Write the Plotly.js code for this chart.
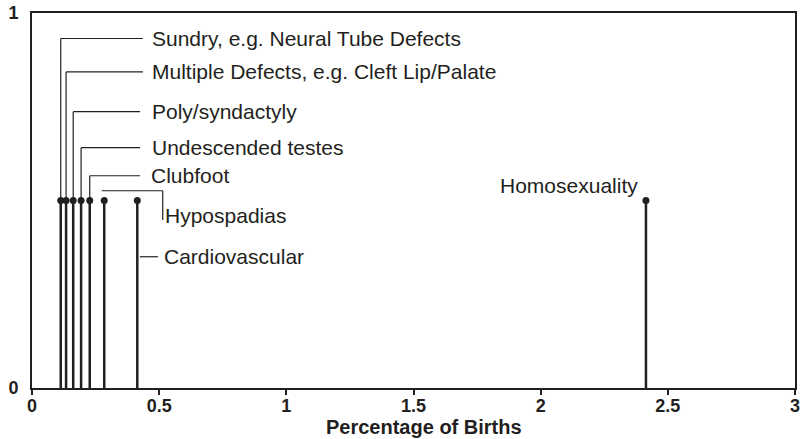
<!DOCTYPE html>
<html>
<head>
<meta charset="utf-8">
<script src="https://cdn.plot.ly/plotly-3.0.1.min.js"></script>
<style>html,body{margin:0;padding:0;background:#fff;}#chart{width:803px;height:439px;}</style>
</head>
<body>
<div id="chart"></div>
<script>
// ---- data ----
const categories = ["Sundry, e.g. Neural Tube Defects", "Multiple Defects, e.g. Cleft Lip/Palate", "Poly/syndactyly", "Undescended testes", "Clubfoot", "Hypospadias", "Cardiovascular", "Homosexuality"];
const percentOfBirths = [0.113, 0.134, 0.162, 0.193, 0.227, 0.284, 0.414, 2.414];
const stemHeight = [0.5, 0.5, 0.5, 0.5, 0.5, 0.5, 0.5, 0.5];
const xTickVals = [0, 0.5, 1, 1.5, 2, 2.5, 3];
const xTickText = ["0", "0.5", "1", "1.5", "2", "2.5", "3"];
const yTickVals = [0, 1];
const yTickText = ["0", "1"];
const xTitle = "Percentage of Births";

// ---- label layout (positions in data units) ----
// style: 'elbow' = up from dot then right; 'hook' = right then down; 'short' = short line to right; 'left' = text left of dot
const labelStyle = ["elbow", "elbow", "elbow", "elbow", "elbow", "hook", "short", "left"];
const labelY = [0.932, 0.843, 0.737, 0.641, 0.566, 0.526, 0.350, 0.539];
const lineEndX = [0.436, 0.436, 0.425, 0.425, 0.425, 0.514, 0.495, null];
const textX = [0.464, 0.464, 0.462, 0.462, 0.460, 0.517, 0.513, null];
const hookDownY = 0.448;
const hookTextY = 0.459;

const ink = "#231f20";
const textFont = {family: "Liberation Sans, Arial, sans-serif", size: 21, color: ink};

// stems
const sx = [], sy = [];
percentOfBirths.forEach((v, i) => { sx.push(v, v, null); sy.push(0, stemHeight[i], null); });

const traces = [
  {type: "scatter", mode: "lines", x: sx, y: sy, line: {color: ink, width: 2.5}, hoverinfo: "skip", showlegend: false},
  {type: "scatter", mode: "markers", x: percentOfBirths, y: stemHeight, text: categories,
   marker: {color: ink, size: 7}, showlegend: false}
];

const shapes = [];
const annotations = [];
const leader = {color: ink, width: 1.2};
categories.forEach((c, i) => {
  const x0 = percentOfBirths[i], y0 = stemHeight[i], ly = labelY[i];
  if (labelStyle[i] === "elbow") {
    shapes.push({type: "line", xref: "x", yref: "y", x0: x0, x1: x0, y0: y0, y1: ly, line: leader});
    shapes.push({type: "line", xref: "x", yref: "y", x0: x0, x1: lineEndX[i], y0: ly, y1: ly, line: leader});
    annotations.push({x: textX[i], y: ly, xref: "x", yref: "y", text: c, showarrow: false, xanchor: "left", yanchor: "middle", font: textFont});
  } else if (labelStyle[i] === "hook") {
    shapes.push({type: "line", xref: "x", yref: "y", x0: x0 - 0.01, x1: lineEndX[i], y0: ly, y1: ly, line: leader});
    shapes.push({type: "line", xref: "x", yref: "y", x0: lineEndX[i], x1: lineEndX[i], y0: ly, y1: hookDownY, line: leader});
    annotations.push({x: textX[i], y: hookTextY, xref: "x", yref: "y", text: c, showarrow: false, xanchor: "left", yanchor: "middle", font: textFont});
  } else if (labelStyle[i] === "short") {
    shapes.push({type: "line", xref: "x", yref: "y", x0: x0 + 0.01, x1: lineEndX[i], y0: ly, y1: ly, line: leader});
    annotations.push({x: textX[i], y: ly, xref: "x", yref: "y", text: c, showarrow: false, xanchor: "left", yanchor: "middle", font: textFont});
  } else {
    annotations.push({x: x0, y: ly, xref: "x", yref: "y", text: c, showarrow: false, xanchor: "right", yanchor: "middle", xshift: -6, font: textFont});
  }
});

// x-axis title (placed as paper annotation to match reference position)
annotations.push({x: 0.514, y: -0.104, xref: "paper", yref: "paper", text: "<b>" + xTitle + "</b>", showarrow: false,
  xanchor: "center", yanchor: "middle", borderpad: 0, font: {family: "Liberation Sans, Arial, sans-serif", size: 20, color: ink}});

const layout = {
  width: 803, height: 439,
  margin: {l: 32, r: 8, t: 13, b: 51},
  paper_bgcolor: "#fff", plot_bgcolor: "#fff",
  showlegend: false,
  xaxis: {
    range: [0, 3], tickvals: xTickVals, ticktext: xTickText,
    showgrid: false, zeroline: false, showline: true, mirror: true, linecolor: ink, linewidth: 2,
    ticks: "outside", ticklen: 5, tickwidth: 2, tickcolor: ink,
    ticklabelstandoff: -5,
    tickfont: {family: "Liberation Sans, Arial, sans-serif", size: 18, color: ink, weight: "bold"}
  },
  yaxis: {
    range: [0, 1], tickvals: yTickVals, ticktext: yTickText,
    showgrid: false, zeroline: false, showline: true, mirror: true, linecolor: ink, linewidth: 2,
    ticks: "", ticklabelstandoff: 8,
    tickfont: {family: "Liberation Sans, Arial, sans-serif", size: 18, color: ink, weight: "bold"}
  },
  shapes: shapes,
  annotations: annotations
};

Plotly.newPlot("chart", traces, layout, {displayModeBar: false, staticPlot: true});
</script>
</body>
</html>
